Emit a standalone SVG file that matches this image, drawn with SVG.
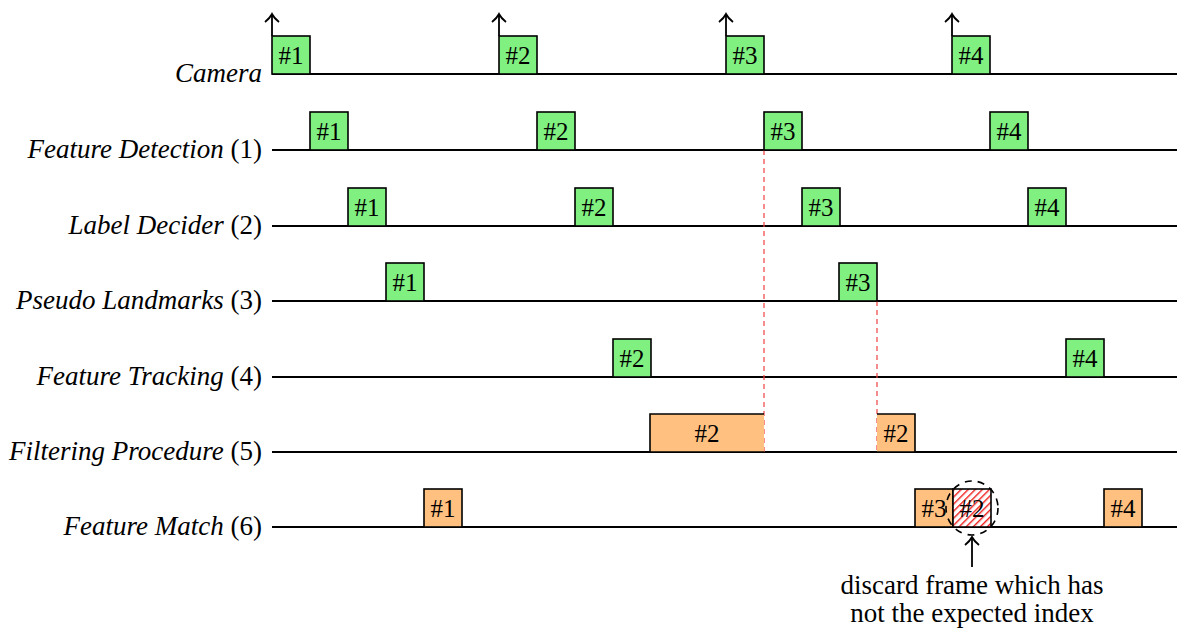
<svg xmlns="http://www.w3.org/2000/svg" width="1177" height="635" viewBox="0 0 1177 635">
<style>
.lbl{font-family:"Liberation Serif","Times New Roman",serif;font-size:27px;fill:#000;text-anchor:end}
.it{font-style:italic}
.bt{font-family:"Liberation Serif","Times New Roman",serif;font-size:25px;fill:#000;text-anchor:middle}
.g{fill:#80f080;stroke:#000;stroke-width:1.6}
.o{fill:#ffc080;stroke:#000;stroke-width:1.6}
.axis{stroke:#000;stroke-width:2;fill:none}
.rd{stroke:#f04040;stroke-width:1.2;stroke-dasharray:5,4;fill:none}
.arr{stroke:#000;stroke-width:1.8;fill:none}
</style>
<defs>
<pattern id="hatch" patternUnits="userSpaceOnUse" width="5" height="5" patternTransform="rotate(45)">
<rect width="5" height="5" fill="#fff"/>
<rect x="0" y="0" width="1.4" height="5" fill="#f01818"/>
</pattern>
</defs>
<rect width="1177" height="635" fill="#fff"/>
<g id="labels">
<text class="lbl" x="262" y="82"><tspan class="it">Camera</tspan></text>
<text class="lbl" x="262" y="158"><tspan class="it">Feature Detection</tspan> (1)</text>
<text class="lbl" x="262" y="234"><tspan class="it">Label Decider</tspan> (2)</text>
<text class="lbl" x="262" y="309"><tspan class="it">Pseudo Landmarks</tspan> (3)</text>
<text class="lbl" x="262" y="385"><tspan class="it">Feature Tracking</tspan> (4)</text>
<text class="lbl" x="262" y="460"><tspan class="it">Filtering Procedure</tspan> (5)</text>
<text class="lbl" x="262" y="535"><tspan class="it">Feature Match</tspan> (6)</text>
</g>
<g id="axes">
<line class="axis" x1="272" y1="74" x2="1177" y2="74"/>
<line class="axis" x1="272" y1="150" x2="1177" y2="150"/>
<line class="axis" x1="272" y1="226" x2="1177" y2="226"/>
<line class="axis" x1="272" y1="301" x2="1177" y2="301"/>
<line class="axis" x1="272" y1="377" x2="1177" y2="377"/>
<line class="axis" x1="272" y1="452" x2="1177" y2="452"/>
<line class="axis" x1="272" y1="527" x2="1177" y2="527"/>
</g>
<g id="connectors">
<path class="arr" d="M272,36 V14 M265,22 Q270,18 272,14 Q274,18 279,22"/>
<path class="arr" d="M499,36 V14 M492,22 Q497,18 499,14 Q501,18 506,22"/>
<path class="arr" d="M726,36 V14 M719,22 Q724,18 726,14 Q728,18 733,22"/>
<path class="arr" d="M952,36 V14 M945,22 Q950,18 952,14 Q954,18 959,22"/>
<line class="rd" x1="764" y1="150" x2="764" y2="452"/>
<line class="rd" x1="877" y1="301" x2="877" y2="452"/>
<path class="arr" d="M972,567 V537 M965,545 Q970,541 972,537 Q974,541 979,545"/>
</g>
<g id="camera">
<rect class="g" x="272" y="36" width="38" height="38"/><text class="bt" x="291" y="64">#1</text>
<rect class="g" x="499" y="36" width="38" height="38"/><text class="bt" x="518" y="64">#2</text>
<rect class="g" x="726" y="36" width="38" height="38"/><text class="bt" x="745" y="64">#3</text>
<rect class="g" x="952" y="36" width="38" height="38"/><text class="bt" x="971" y="64">#4</text>
</g>
<g id="detection">
<rect class="g" x="310" y="112" width="38" height="38"/><text class="bt" x="329" y="140">#1</text>
<rect class="g" x="537" y="112" width="38" height="38"/><text class="bt" x="556" y="140">#2</text>
<rect class="g" x="764" y="112" width="38" height="38"/><text class="bt" x="783" y="140">#3</text>
<rect class="g" x="990" y="112" width="38" height="38"/><text class="bt" x="1009" y="140">#4</text>
</g>
<g id="label-decider">
<rect class="g" x="348" y="188" width="38" height="38"/><text class="bt" x="367" y="216">#1</text>
<rect class="g" x="575" y="188" width="38" height="38"/><text class="bt" x="594" y="216">#2</text>
<rect class="g" x="802" y="188" width="38" height="38"/><text class="bt" x="821" y="216">#3</text>
<rect class="g" x="1028" y="188" width="38" height="38"/><text class="bt" x="1047" y="216">#4</text>
</g>
<g id="pseudo-landmarks">
<rect class="g" x="386" y="263" width="38" height="38"/><text class="bt" x="405" y="291">#1</text>
<rect class="g" x="839" y="263" width="38" height="38"/><text class="bt" x="858" y="291">#3</text>
</g>
<g id="tracking">
<rect class="g" x="613" y="339" width="38" height="38"/><text class="bt" x="632" y="367">#2</text>
<rect class="g" x="1066" y="339" width="38" height="38"/><text class="bt" x="1085" y="367">#4</text>
</g>
<g id="filtering">
<path d="M764,414 H650 V452 H764 Z" fill="#ffc080"/>
<path d="M764,414 H650 V452 H764" fill="none" stroke="#000" stroke-width="1.6"/>
<text class="bt" x="707" y="442">#2</text>
<path d="M877,414 H915 V452 H877 Z" fill="#ffc080"/>
<path d="M877,414 H915 V452 H877" fill="none" stroke="#000" stroke-width="1.6"/>
<text class="bt" x="896" y="442">#2</text>
</g>
<g id="match">
<rect class="o" x="424" y="489" width="38" height="38"/><text class="bt" x="443" y="517">#1</text>
<rect class="o" x="915" y="489" width="38" height="38"/><text class="bt" x="934" y="517">#3</text>
<rect x="953" y="489" width="38" height="38" fill="url(#hatch)" stroke="#000" stroke-width="1.6"/><text class="bt" x="972" y="517">#2</text>
<rect class="o" x="1104" y="489" width="38" height="38"/><text class="bt" x="1123" y="517">#4</text>
<ellipse cx="972" cy="508" rx="26" ry="27" fill="none" stroke="#000" stroke-width="1.6" stroke-dasharray="7,6"/>
</g>
<g id="note">
<text class="bt" style="font-size:27px" x="972" y="594">discard frame which has</text>
<text class="bt" style="font-size:27px" x="972" y="622">not the expected index</text>
</g>
</svg>
